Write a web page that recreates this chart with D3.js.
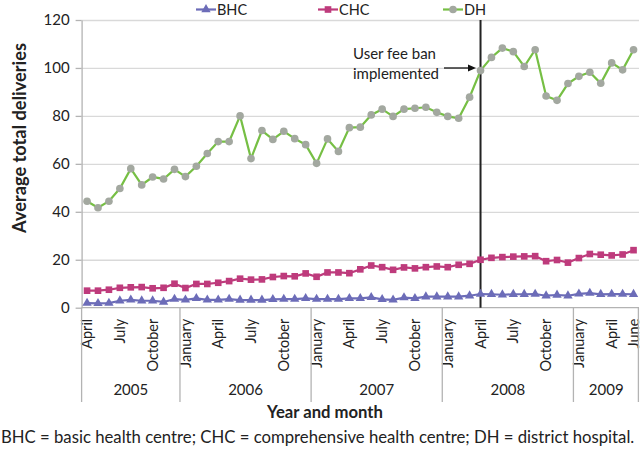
<!DOCTYPE html>
<html><head><meta charset="utf-8">
<script src="https://cdn.jsdelivr.net/npm/d3@7"></script>
<style>
html,body{margin:0;padding:0;background:#fff;}
svg{display:block;font-family:Lato,"Open Sans",sans-serif;}
</style></head>
<body><svg id="chart" width="640" height="450"></svg>
<script>
const months = ["April","May","June","July","August","September","October","November","December",
 "January","February","March","April","May","June","July","August","September","October","November","December",
 "January","February","March","April","May","June","July","August","September","October","November","December",
 "January","February","March","April","May","June","July","August","September","October","November","December",
 "January","February","March","April","May","June"];
const years = ["2005","2006","2007","2008","2009"];
const yearStart = [0, 9, 21, 33, 45];
const monthLabelIdx = [0,3,6,9,12,15,18,21,24,27,30,33,36,39,42,45,48,50];
const yTicks = [0,20,40,60,80,100,120];
const seriesNames = ["BHC","CHC","DH"];
const bhc = [1.9,1.8,1.9,2.9,3.3,2.9,2.9,2.4,3.6,3.3,3.9,3.3,3.3,3.6,3.2,3.2,3.2,3.5,3.6,3.6,3.9,3.6,3.6,3.6,3.9,3.9,
 4.3,3.5,3.3,4.2,3.9,4.6,4.6,4.6,4.6,5.0,5.7,5.6,5.4,5.6,5.6,5.7,5.0,5.3,5.0,5.8,6.1,5.6,5.7,5.7,5.6];
const chc = [7.1,7.1,7.5,8.3,8.5,8.6,8.1,8.3,10.0,8.2,9.9,9.9,10.4,11.1,12.1,11.7,11.8,12.8,13.2,13.1,14.3,12.9,14.7,14.7,14.4,16.0,
 17.6,16.9,15.8,16.8,16.4,16.9,17.2,16.9,17.9,18.3,20.0,20.8,21.1,21.3,21.4,21.5,19.4,19.9,18.8,20.7,22.4,22.1,21.8,22.2,24.0];
const dh = [44.4,41.7,44.4,49.7,58.0,51.2,54.5,53.7,57.7,54.7,59.0,64.3,69.3,69.3,80.0,62.2,73.9,70.2,73.6,70.5,68.0,60.2,70.4,65.2,75.1,75.3,
 80.4,82.8,79.8,82.8,83.2,83.6,81.5,79.8,79.0,87.8,98.9,104.4,108.3,106.8,100.6,107.6,88.3,86.5,93.5,96.5,98.2,93.6,102.1,99.2,107.6];
const banIndex = 36;
const annotation = ["User fee ban","implemented"];
const yTitle = "Average total deliveries";
const xTitle = "Year and month";
const caption = "BHC = basic health centre; CHC = comprehensive health centre; DH = district hospital.";

const svg = d3.select("#chart");
const L = 81.6, R = 639, T = 20, B = 307.7;
const x = d3.scaleBand().domain(d3.range(months.length)).range([L, R]).padding(0);
const cx = i => x(i) + x.bandwidth()/2;
const y = d3.scaleLinear().domain([0,120]).range([B, T]);

// gridlines
svg.append("g").attr("transform",`translate(${L},0)`)
  .call(d3.axisLeft(y).tickValues(yTicks.slice(1)).tickSize(-(R-L)).tickFormat(""))
  .call(g=>g.select(".domain").remove())
  .call(g=>g.selectAll("line").attr("stroke","#d9d9d9").attr("stroke-width",1.3));

// y axis
svg.append("g").attr("transform",`translate(${L},0)`)
  .call(d3.axisLeft(y).tickValues(yTicks).tickSize(6).tickPadding(6).tickSizeOuter(0))
  .call(g=>g.select(".domain").attr("stroke","#b3b3b3").attr("stroke-width",1.3))
  .call(g=>g.selectAll(".tick line").attr("stroke","#b3b3b3").attr("stroke-width",1.3))
  .call(g=>g.selectAll("text").attr("font-size",15).attr("fill","#222").attr("font-family","Lato,sans-serif"));

// x axis line
svg.append("line").attr("x1",L).attr("x2",R).attr("y1",B).attr("y2",B).attr("stroke","#b3b3b3").attr("stroke-width",1.3);

// month labels
svg.append("g").attr("transform",`translate(0,${B})`)
  .call(d3.axisBottom(x).tickValues(monthLabelIdx).tickSize(0).tickFormat(i=>months[i]))
  .call(g=>g.select(".domain").remove())
  .call(g=>g.selectAll("text").attr("font-size",14.5).attr("fill","#222")
     .attr("font-family","Lato,sans-serif")
     .attr("transform","rotate(-90)").attr("text-anchor","end")
     .attr("x",-11).attr("y",0).attr("dy","0.35em"));

// year dividers
const divs = yearStart.map(i=>x(i)).concat([R-0.6]);
svg.append("g").selectAll("line").data(divs).join("line")
  .attr("x1",d=>d).attr("x2",d=>d).attr("y1",B).attr("y2",402)
  .attr("stroke","#b3b3b3").attr("stroke-width",1.3);
svg.append("g").selectAll("text").data(years).join("text")
  .attr("x",(d,k)=>(x(yearStart[k]) + (k<years.length-1 ? x(yearStart[k+1]) : R))/2)
  .attr("y",395).attr("text-anchor","middle").attr("font-size",15).attr("fill","#222").text(d=>d);

// ban line
svg.append("line").attr("x1",cx(banIndex)).attr("x2",cx(banIndex)).attr("y1",T).attr("y2",B)
  .attr("stroke","#222").attr("stroke-width",2);

// series
const line = d3.line().x((d,i)=>cx(i)).y(d=>y(d));
const colors = {BHC:"#6c6cb8", CHC:"#be3b7c", DH:"#76bf44"};
const markerFill = {BHC:"#6c6cb8", CHC:"#be3b7c", DH:"#a3a8a0"};
const data = {BHC:bhc, CHC:chc, DH:dh};
const sym = {BHC:d3.symbolTriangle, CHC:d3.symbolSquare, DH:d3.symbolCircle};
const symSize = {BHC:38, CHC:44, DH:46};
seriesNames.forEach(s=>{
  svg.append("path").datum(data[s]).attr("d",line).attr("fill","none")
    .attr("stroke",colors[s]).attr("stroke-width",2.2);
  svg.append("g").selectAll("path").data(data[s]).join("path")
    .attr("transform",(d,i)=>`translate(${cx(i)},${y(d)})`)
    .attr("d",d3.symbol(sym[s],symSize[s])).attr("fill",markerFill[s]);
});

// legend
const legX = {BHC:196, CHC:318, DH:443};
seriesNames.forEach(s=>{
  const g = svg.append("g").attr("transform",`translate(${legX[s]},9.5)`);
  g.append("line").attr("x1",0).attr("x2",20).attr("stroke",colors[s]).attr("stroke-width",2.2);
  g.append("path").attr("transform","translate(10,0)").attr("d",d3.symbol(sym[s],symSize[s])).attr("fill",markerFill[s]);
  g.append("text").attr("x",21).attr("y",0).attr("dy","0.35em").attr("font-size",14.5).attr("fill","#222").text(s);
});

// annotation
svg.append("g").selectAll("text").data(annotation).join("text")
  .attr("x",353).attr("y",(d,i)=>59+i*20).attr("font-size",15).attr("fill","#222").text(d=>d);
svg.append("line").attr("x1",444).attr("x2",470).attr("y1",68).attr("y2",68).attr("stroke","#111").attr("stroke-width",1.3);
svg.append("path").attr("d","M476,68 L468,64.5 L468,71.5 Z").attr("fill","#111");

// titles
function fit(sel, w){ const n=sel.node(); const l=n.getComputedTextLength(); const fs=+sel.attr("font-size"); sel.attr("font-size", fs*w/l); }
const yt = svg.append("text").attr("transform","translate(26,138) rotate(-90)").attr("text-anchor","middle")
  .attr("font-size",17).attr("font-weight","bold").attr("fill","#222").text(yTitle);
fit(yt,190);
const xt = svg.append("text").attr("x",325).attr("y",418).attr("text-anchor","middle")
  .attr("font-size",17).attr("font-weight","bold").attr("fill","#222").text(xTitle);
fit(xt,116);
const cap = svg.append("text").attr("x",1).attr("y",443).attr("font-size",15).attr("fill","#222").text(caption);
fit(cap,634);
</script></body></html>
